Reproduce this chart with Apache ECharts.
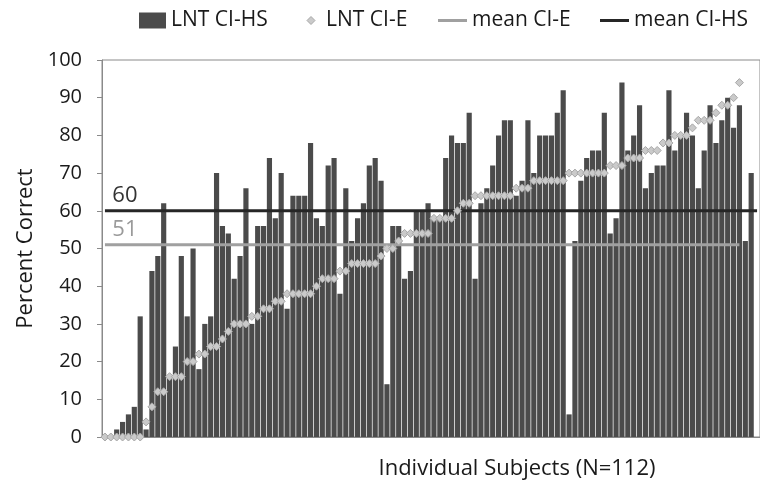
<!DOCTYPE html>
<html>
<head>
<meta charset="utf-8">
<script src="https://cdn.jsdelivr.net/npm/echarts@6/dist/echarts.min.js"></script>
<style>html,body{margin:0;padding:0;background:#fff;}#c{width:760px;height:498px;}</style>
</head>
<body>
<div id="c"></div>
<script>
const subjects = Array.from({length:112}, (_, i) => String(i + 1));
const lntCIHS = [0,0,2,4,6,8,32,2,44,48,62,16,24,48,32,50,18,30,32,70,
  56,54,42,48,66,30,56,56,74,58,70,34,64,64,64,78,58,56,72,74,
  38,66,52,58,62,72,74,68,14,56,56,42,44,60,60,62,58,58,74,80,
  78,78,86,42,62,66,72,80,84,84,64,68,84,70,80,80,80,86,92,6,
  52,68,74,76,76,86,54,58,94,76,80,88,66,70,72,72,92,76,80,86,
  80,66,76,88,78,84,90,82,88,52,70,null];
const lntCIE = [0,0,0,0,0,0,0,4,8,12,12,16,16,16,20,20,22,22,24,24,
  26,28,30,30,30,32,32,34,34,36,36,38,38,38,38,38,40,42,42,42,
  44,44,46,46,46,46,46,48,50,50,52,54,54,54,54,54,58,58,58,58,
  60,62,62,64,64,64,64,64,64,64,66,66,66,68,68,68,68,68,68,70,
  70,70,70,70,70,70,72,72,72,74,74,74,76,76,76,78,78,80,80,80,
  82,84,84,84,86,88,88,90,94,null,null,null];
const meanCIE = 51;
const meanCIHS = 60;
const legendNames = ['LNT CI-HS', 'LNT CI-E', 'mean CI-E', 'mean CI-HS'];

const meanELine = lntCIE.map(v => v === null ? null : meanCIE);
const meanHSLine = subjects.map(() => meanCIHS);
function withLabel(arr, color){
  return arr.map((v, i) => i === 0 ? {value: v, label: {show: true, formatter: String(v), color: color}} : v);
}
const diamondIcon = 'image://data:image/svg+xml;utf8,' + encodeURIComponent('<svg xmlns="http://www.w3.org/2000/svg" width="29" height="16" viewBox="0 0 29 16"><path d="M19 4 L23 8 L19 12 L15 8 Z" fill="#cacaca" stroke="#a8a8a8" stroke-width="1"/></svg>');
const lineIcon = 'path://M0,0 h29 v3 h-29 z';
const font = 'Open Sans';
const legendText = {fontSize: 21, color: '#1a1a1a', fontFamily: font};
const chart = echarts.init(document.getElementById('c'), null, {renderer: 'canvas'});
chart.setOption({
  animation: false,
  backgroundColor: '#fff',
  textStyle: {fontFamily: font},
  legend: [
    {top: 5, left: 134, itemWidth: 27, itemHeight: 16, textStyle: legendText,
     data: [{name: legendNames[0], icon: 'rect'}]},
    {top: 5, left: 287, itemWidth: 29, itemHeight: 16, textStyle: legendText,
     data: [{name: legendNames[1], icon: diamondIcon}]},
    {top: 5, left: 433, itemWidth: 29, itemHeight: 16, textStyle: legendText,
     data: [{name: legendNames[2], icon: lineIcon}]},
    {top: 5, left: 595, itemWidth: 29, itemHeight: 16, textStyle: legendText,
     data: [{name: legendNames[3], icon: lineIcon}]}
  ],
  grid: {left: 102, top: 60, width: 665, height: 377, show: true, borderColor: '#8a8a8a', borderWidth: 1, containLabel: false},
  xAxis: {
    type: 'category', data: subjects,
    axisLine: {lineStyle: {color: '#8a8a8a'}},
    axisTick: {show: false}, axisLabel: {show: false},
    name: 'Individual Subjects (N=112)', nameLocation: 'middle', nameGap: 21,
    nameTextStyle: {fontSize: 22, color: '#1a1a1a', fontFamily: font, padding: [0, 0, 0, 172]}
  },
  yAxis: {
    type: 'value', min: 0, max: 100, interval: 10,
    axisLine: {show: true, lineStyle: {color: '#8a8a8a'}},
    axisTick: {show: true, length: 5, lineStyle: {color: '#8a8a8a'}},
    splitLine: {show: false},
    axisLabel: {fontSize: 20, color: '#1a1a1a', margin: 20, fontFamily: font},
    name: 'Percent Correct', nameLocation: 'middle', nameGap: 64, nameRotate: 90,
    nameTextStyle: {fontSize: 22, color: '#1a1a1a', fontFamily: font}
  },
  series: [
    {name: 'LNT CI-HS', type: 'bar', data: lntCIHS, barCategoryGap: '12%',
     itemStyle: {color: '#4b4b4b'}, z: 2},
    {name: 'LNT CI-E', type: 'line', data: lntCIE, symbol: 'diamond', symbolSize: 8,
     showSymbol: true, showAllSymbol: true, clip: false,
     lineStyle: {width: 0, opacity: 0},
     itemStyle: {color: '#cacaca', borderColor: '#a8a8a8', borderWidth: 1}, z: 4},
    {name: 'mean CI-E', type: 'line', data: withLabel(meanELine, '#9a9a9a'), symbol: 'circle', symbolSize: 0, showSymbol: true, showAllSymbol: true,
     lineStyle: {color: '#a0a0a0', width: 3}, itemStyle: {color: '#a0a0a0'},
     label: {show: false, position: 'top', distance: 4, offset: [20, 0], fontSize: 22, fontFamily: font}, z: 3},
    {name: 'mean CI-HS', type: 'line', data: withLabel(meanHSLine, '#333'), symbol: 'circle', symbolSize: 0, showSymbol: true, showAllSymbol: true,
     lineStyle: {color: '#262626', width: 3}, itemStyle: {color: '#262626'},
     label: {show: false, position: 'top', distance: 4, offset: [20, 0], fontSize: 22, fontFamily: font}, z: 3}
  ]
});
</script>
</body>
</html>
